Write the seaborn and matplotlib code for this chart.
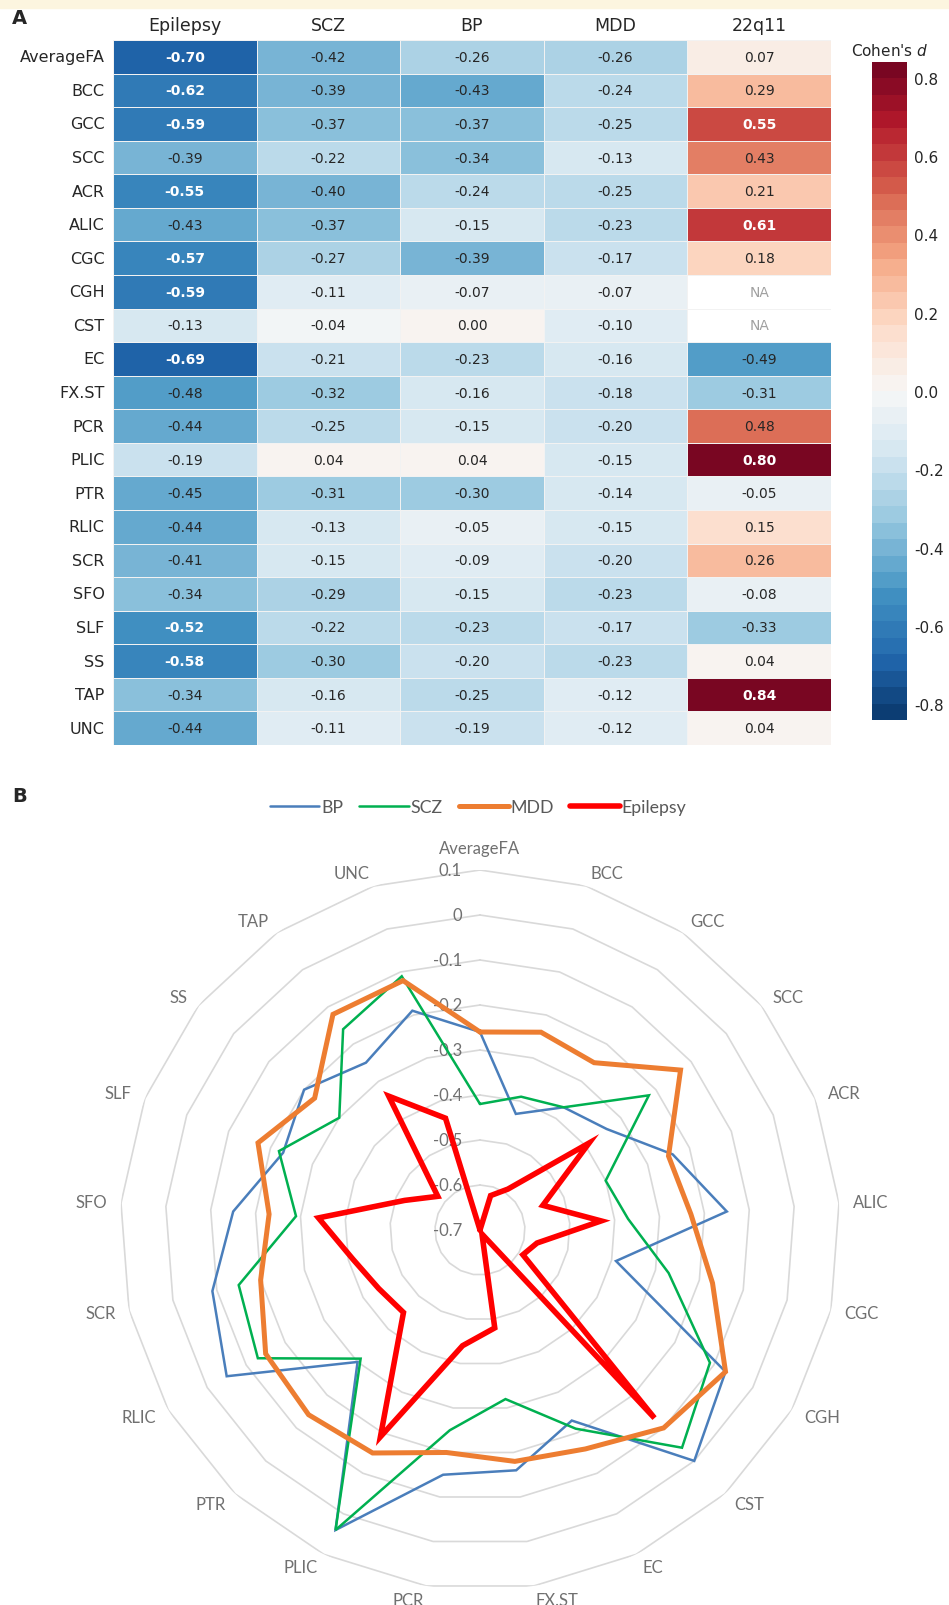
import matplotlib
matplotlib.use("Agg")
import matplotlib.pyplot as plt
import numpy as np
import pandas as pd
import seaborn as sns
from matplotlib.colors import ListedColormap
from matplotlib.lines import Line2D
from matplotlib.patches import Rectangle

# ---- data ----
tracts = ["AverageFA", "BCC", "GCC", "SCC", "ACR", "ALIC", "CGC", "CGH", "CST", "EC",
          "FX.ST", "PCR", "PLIC", "PTR", "RLIC", "SCR", "SFO", "SLF", "SS", "TAP", "UNC"]
groups = ["Epilepsy", "SCZ", "BP", "MDD", "22q11"]

epilepsy = [-0.70, -0.62, -0.59, -0.39, -0.55, -0.43, -0.57, -0.59, -0.13, -0.69, -0.48,
            -0.44, -0.19, -0.45, -0.44, -0.41, -0.34, -0.52, -0.58, -0.34, -0.44]
scz = [-0.42, -0.39, -0.37, -0.22, -0.40, -0.37, -0.27, -0.11, -0.04, -0.21, -0.32,
       -0.25, 0.04, -0.31, -0.13, -0.15, -0.29, -0.22, -0.30, -0.16, -0.11]
bp = [-0.26, -0.43, -0.37, -0.34, -0.24, -0.15, -0.39, -0.07, 0.00, -0.23, -0.16,
      -0.15, 0.04, -0.30, -0.05, -0.09, -0.15, -0.23, -0.20, -0.25, -0.19]
mdd = [-0.26, -0.24, -0.25, -0.13, -0.25, -0.23, -0.17, -0.07, -0.10, -0.16, -0.18,
       -0.20, -0.15, -0.14, -0.15, -0.20, -0.23, -0.17, -0.23, -0.12, -0.12]
q22 = [0.07, 0.29, 0.55, 0.43, 0.21, 0.61, 0.18, np.nan, np.nan, -0.49, -0.31,
       0.48, 0.80, -0.05, 0.15, 0.26, -0.08, -0.33, 0.04, 0.84, 0.04]

cbar_ticks = [0.8, 0.6, 0.4, 0.2, 0.0, -0.2, -0.4, -0.6, -0.8]
radar_series = ["BP", "SCZ", "MDD", "Epilepsy"]
radar_colors = {"BP": "#4a7ebb", "SCZ": "#00b050", "MDD": "#ed7d31", "Epilepsy": "#ff0000"}
radar_widths = {"BP": 1.8, "SCZ": 1.8, "MDD": 3.6, "Epilepsy": 4.0}
radar_ticks = [0.1, 0, -0.1, -0.2, -0.3, -0.4, -0.5, -0.6, -0.7]

df = pd.DataFrame({"Epilepsy": epilepsy, "SCZ": scz, "BP": bp, "MDD": mdd, "22q11": q22},
                  index=tracts)[groups]

# ---- figure ----
W, H = 949, 1606
sns.set_style("white")
plt.rcParams["font.family"] = ["DejaVu Sans"]
fig = plt.figure(figsize=(W / 100, H / 100), dpi=100)


def box(left, top, width, height):
    # pixel box -> figure fraction
    return [left / W, 1 - (top + height) / H, width / W, height / H]


fig.patches.append(Rectangle((0, 1 - 9 / H), 1, 9 / H, transform=fig.transFigure,
                             color="#fcf5df", zorder=0))

# ---- panel A: heatmap ----
ax_h = fig.add_axes(box(113, 41, 718, 705))
ax_c = fig.add_axes(box(872, 63, 35, 658))
cmap = ListedColormap(sns.color_palette("RdBu_r", 40))
sns.heatmap(df, ax=ax_h, cbar_ax=ax_c, cmap=cmap, vmin=-0.84, vmax=0.84,
            annot=False, linewidths=0.6, linecolor="#f2f2f2")

for i, tract in enumerate(tracts):
    for j, g in enumerate(groups):
        v = df.loc[tract, g]
        if pd.isna(v):
            ax_h.text(j + 0.5, i + 0.5, "NA", ha="center", va="center",
                      fontsize=10, color="#a0a0a0")
        elif abs(v) > 0.5:
            ax_h.text(j + 0.5, i + 0.5, f"{v:.2f}", ha="center", va="center",
                      fontsize=10, color="white", fontweight="bold")
        else:
            ax_h.text(j + 0.5, i + 0.5, f"{v:.2f}", ha="center", va="center",
                      fontsize=10, color="#262626")

ax_h.xaxis.tick_top()
ax_h.set_xlabel("")
ax_h.set_ylabel("")
ax_h.tick_params(length=0)
ax_h.tick_params(axis="x", labelsize=12.5, pad=4)
ax_h.tick_params(axis="y", labelsize=11.5, pad=6)
plt.setp(ax_h.get_yticklabels(), rotation=0)

ax_c.set_yticks(cbar_ticks)
ax_c.set_yticklabels([f"{v:.1f}" for v in cbar_ticks])
ax_c.tick_params(length=0, labelsize=11, pad=5)
ax_c.set_title("Cohen's $\\mathit{d}$", fontsize=11, pad=5)

fig.text(12 / W, 1 - 19 / H, "A", fontsize=14, fontweight="bold", va="center")
fig.text(12 / W, 1 - 797 / H, "B", fontsize=14, fontweight="bold", va="center")

# ---- panel B: radar ----
R, cx, cy = 360, 480, 1231
ax_r = fig.add_axes(box(cx - R, cy - R, 2 * R, 2 * R), projection="polar")
ax_r.set_theta_zero_location("N")
ax_r.set_theta_direction(-1)
ax_r.set_ylim(radar_ticks[-1], radar_ticks[0])
ax_r.grid(False)
ax_r.spines["polar"].set_visible(False)
ax_r.set_xticks([])
ax_r.set_yticks([])
ax_r.patch.set_alpha(0)

n = len(tracts)
theta = np.linspace(0, 2 * np.pi, n, endpoint=False)
closed = np.append(theta, theta[0])

for lev in radar_ticks[:-1]:
    ax_r.plot(closed, [lev] * (n + 1), color="#d9d9d9", lw=1.2, zorder=1)

txt_color = "#707070"
for lev in radar_ticks:
    ax_r.annotate(f"{lev:g}", xy=(0, lev), xytext=(-13, 0), textcoords="offset points",
                  ha="right", va="center", fontsize=12, color=txt_color,
                  family="Lato", zorder=2)

px_per_unit = R / (radar_ticks[0] - radar_ticks[-1])
label_r = radar_ticks[0] + 14 / px_per_unit
for th, name in zip(theta, tracts):
    s = np.sin(th)
    ha = "left" if s > 0.01 else ("right" if s < -0.01 else "center")
    va = "bottom" if abs(s) <= 0.01 else "center"
    ax_r.text(th, label_r, name, ha=ha, va=va, fontsize=12, color=txt_color, family="Lato")

for k, name in enumerate(radar_series):
    vals = df[name].tolist()
    ax_r.plot(closed, vals + vals[:1], color=radar_colors[name],
              lw=radar_widths[name], zorder=3 + k, solid_joinstyle="miter")

handles = [Line2D([], [], color=radar_colors[s], lw=radar_widths[s]) for s in radar_series]
fig.legend(handles, radar_series, loc="center", bbox_to_anchor=(478 / W, 1 - 808 / H),
           ncol=4, frameon=False, handlelength=2.8, handletextpad=0.1,
           columnspacing=0.9, labelcolor="#595959", prop={"family": "Lato", "size": 12.8})

fig.savefig("out.png", dpi=100)
